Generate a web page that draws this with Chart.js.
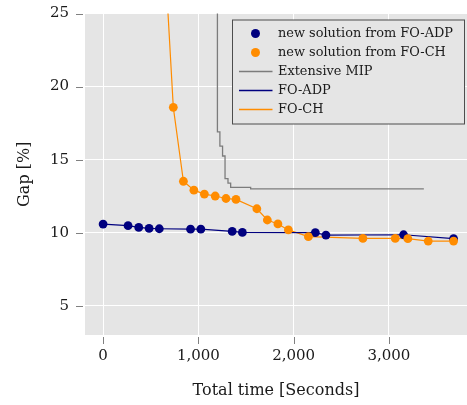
<!DOCTYPE html>
<html><head><meta charset="utf-8">
<script src="https://cdn.jsdelivr.net/npm/chart.js@4.4.0/dist/chart.umd.min.js"></script>
<style>html,body{margin:0;padding:0;background:#fff;} canvas{display:block;}</style>
</head><body>
<canvas id="c" width="467" height="405"></canvas>
<script>
// ---- data ----
const adpTime = [0, 262, 374, 483, 590, 918, 1026, 1355, 1462, 2228, 2339, 3154, 3679];
const adpGap  = [10.59, 10.48, 10.36, 10.29, 10.27, 10.24, 10.24, 10.09, 10.02, 10.00, 9.84, 9.86, 9.59];

const chTime = [600, 737, 843, 953, 1063, 1177, 1290, 1395, 1614, 1724, 1835, 1945, 2155, 2727, 3067, 3199, 3413, 3679];
const chGap  = [34.4, 18.58, 13.52, 12.91, 12.64, 12.51, 12.34, 12.28, 11.64, 10.87, 10.60, 10.19, 9.73, 9.61, 9.61, 9.59, 9.43, 9.43];

const mipTime = [1000, 1200, 1226, 1254, 1280, 1311, 1339, 1549, 3367];
const mipGap  = [100, 16.9, 15.92, 15.25, 13.70, 13.39, 13.10, 13.0, 13.0];

const xTicks = [0, 1000, 2000, 3000];
const yTicks = [5, 10, 15, 20, 25];

const labels = ['new solution from FO-ADP', 'new solution from FO-CH', 'Extensive MIP', 'FO-ADP', 'FO-CH'];
const xTitle = 'Total time [Seconds]';
const yTitle = 'Gap [%]';

const NAVY = '#00007f', ORANGE = '#ff8c00', GRAY = '#7c7c7c';
const pts = (xs, ys) => xs.map((x, i) => ({x, y: ys[i]}));
const FONT = '"DejaVu Serif", serif';

const bgPlugin = {
  id: 'bg',
  beforeDraw(chart) {
    const {ctx, chartArea: a} = chart;
    ctx.save();
    ctx.fillStyle = '#e5e5e5';
    ctx.fillRect(a.left, a.top, a.right - a.left, a.bottom - a.top);
    ctx.restore();
  },
  afterDraw(chart) {
    const {ctx, chartArea: a} = chart;
    const xs = chart.scales.x, ys = chart.scales.y;
    ctx.save();
    ctx.strokeStyle = '#808080';
    ctx.lineWidth = 1;
    ctx.beginPath();
    xs.ticks.forEach(t => {
      const p = Math.round(xs.getPixelForValue(t.value)) + 0.5;
      ctx.moveTo(p, a.bottom + 2); ctx.lineTo(p, a.bottom + 9);
    });
    ys.ticks.forEach(t => {
      const p = Math.round(ys.getPixelForValue(t.value)) + 0.5;
      ctx.moveTo(a.left - 9, p); ctx.lineTo(a.left - 2, p);
    });
    ctx.stroke();
    ctx.restore();
  }
};

const legendPlugin = {
  id: 'boxLegend',
  afterDatasetsDraw(chart) {
    const {ctx, chartArea: a} = chart;
    const bx = a.right - 234.5, by = a.top + 6.5, bw = 232, bh = 104;
    ctx.save();
    ctx.fillStyle = '#e5e5e5';
    ctx.fillRect(bx, by, bw, bh);
    ctx.strokeStyle = '#4d4d4d';
    ctx.lineWidth = 1;
    ctx.strokeRect(bx, by, bw, bh);
    ctx.font = '12.9px ' + FONT;
    ctx.textBaseline = 'middle';
    ctx.textAlign = 'left';
    chart.data.datasets.forEach((ds, i) => {
      const cy = Math.round(by + 13 + i * 19) + 0.5;
      if (ds.showLine === false) {
        ctx.fillStyle = ds.pointBackgroundColor;
        ctx.beginPath();
        ctx.arc(bx + 23, cy, 4.5, 0, Math.PI * 2);
        ctx.fill();
      } else {
        ctx.strokeStyle = ds.borderColor;
        ctx.lineWidth = 1.4;
        ctx.beginPath();
        ctx.moveTo(bx + 6.5, cy); ctx.lineTo(bx + 40, cy);
        ctx.stroke();
      }
      ctx.fillStyle = '#1a1a1a';
      ctx.fillText(ds.label, bx + 45.5, cy);
    });
    ctx.restore();
  }
};

new Chart(document.getElementById('c'), {
  type: 'scatter',
  data: {
    datasets: [
      {label: labels[0], data: pts(adpTime, adpGap), showLine: false, pointRadius: 4.4, pointBorderWidth: 0,
       pointBackgroundColor: NAVY, pointBorderColor: NAVY, order: 2},
      {label: labels[1], data: pts(chTime, chGap), showLine: false, pointRadius: 4.4, pointBorderWidth: 0,
       pointBackgroundColor: ORANGE, pointBorderColor: ORANGE, order: 1},
      {label: labels[2], data: pts(mipTime, mipGap), showLine: true, stepped: 'before', pointRadius: 0,
       borderColor: GRAY, borderWidth: 1.3, order: 5},
      {label: labels[3], data: pts(adpTime, adpGap), showLine: true, pointRadius: 0,
       borderColor: NAVY, borderWidth: 1.2, order: 3},
      {label: labels[4], data: pts(chTime, chGap), showLine: true, pointRadius: 0,
       borderColor: ORANGE, borderWidth: 1.2, order: 4}
    ]
  },
  options: {
    responsive: false,
    devicePixelRatio: 1,
    animation: false,
    layout: {autoPadding: false, padding: {left: 0, right: 0, top: 13.5, bottom: 0}},
    plugins: {legend: {display: false}, tooltip: {enabled: false}},
    scales: {
      x: {
        type: 'linear', min: -190, max: 3820,
        afterBuildTicks: s => { s.ticks = xTicks.map(v => ({value: v})); },
        afterFit: s => { s.height = 70; s.paddingLeft = 0; s.paddingRight = 0; s.paddingTop = 0; s.paddingBottom = 0; },
        grid: {color: '#ffffff', lineWidth: 1, drawTicks: false},
        border: {display: false},
        ticks: {padding: 12, color: '#1a1a1a', font: {family: FONT, size: 15},
                callback: v => Number(v).toLocaleString('en-US')},
        title: {display: true, text: xTitle, color: '#1a1a1a', font: {family: FONT, size: 16},
                padding: {top: 0, bottom: 5}}
      },
      y: {
        type: 'linear', min: 3, max: 25,
        afterBuildTicks: s => { s.ticks = yTicks.map(v => ({value: v})); },
        afterFit: s => { s.width = 85; s.paddingLeft = 0; s.paddingRight = 0; s.paddingTop = 0; s.paddingBottom = 0; },
        grid: {color: '#ffffff', lineWidth: 1, drawTicks: false},
        border: {display: false},
        ticks: {padding: 16, color: '#1a1a1a', font: {family: FONT, size: 15}},
        title: {display: true, text: yTitle, color: '#1a1a1a', font: {family: FONT, size: 16},
                padding: {top: 15.5, bottom: 0}}
      }
    }
  },
  plugins: [bgPlugin, legendPlugin]
});
</script>
</body></html>
